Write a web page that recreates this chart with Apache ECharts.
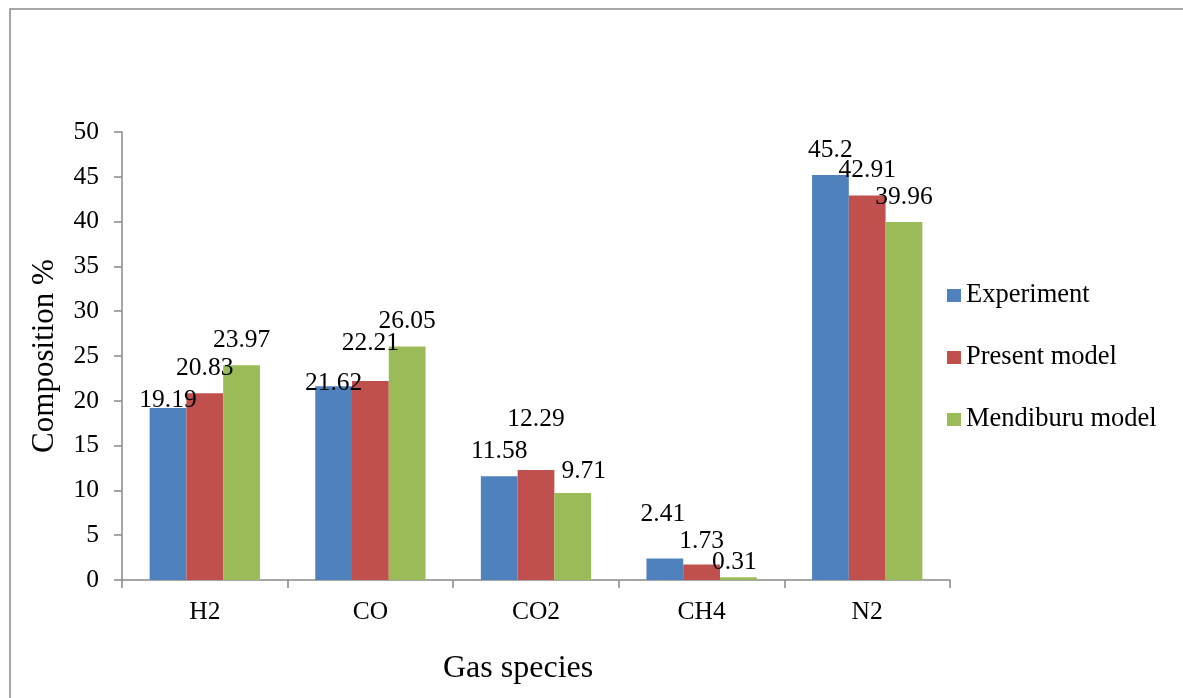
<!DOCTYPE html>
<html>
<head>
<meta charset="utf-8">
<script src="https://cdn.jsdelivr.net/npm/echarts@6/dist/echarts.min.js"></script>
<style>
html,body{margin:0;padding:0;background:#fff;}
#chart{width:1183px;height:698px;}
</style>
</head>
<body>
<div id="chart"></div>
<script>
const categories = ['H2', 'CO', 'CO2', 'CH4', 'N2'];
const experiment = [19.19, 21.62, 11.58, 2.41, 45.2];
const presentModel = [20.83, 22.21, 12.29, 1.73, 42.91];
const mendiburuModel = [23.97, 26.05, 9.71, 0.31, 39.96];
const seriesNames = ['Experiment', 'Present model', 'Mendiburu model'];
const yTicks = { min: 0, max: 50, interval: 5 };

// label nudges [dx, dy] (pixels) to mimic original label placement
const nudgeExperiment = [[0, 17], [0, 22], [0, 0], [-2, -19], [0, 0]];
const nudgePresent = [[0, 0], [0, -13], [0, -26], [0, 2], [0, 0]];
const nudgeMendiburu = [[0, 0], [0, 0], [11, 3], [-4, 10], [0, 0]];

const FONT = "'Liberation Serif', 'Times New Roman', serif";
const colors = ['#4F81BD', '#C0504D', '#9BBB59'];
const axisGray = '#898989';

function buildData(vals, nudges) {
  return vals.map((v, i) => ({ value: v, label: { offset: nudges[i] } }));
}

function makeSeries(name, vals, nudges, color) {
  return {
    name: name,
    type: 'bar',
    barGap: '0%',
    barCategoryGap: '33.4%',
    itemStyle: { color: color },
    label: {
      show: true,
      position: 'top',
      distance: 12.5,
      color: '#000',
      fontFamily: FONT,
      fontSize: 25.5,
      lineHeight: 25
    },
    data: buildData(vals, nudges)
  };
}

const chart = echarts.init(document.getElementById('chart'), null, { renderer: 'canvas' });
chart.setOption({
  animation: false,
  backgroundColor: '#fff',
  graphic: [{
    type: 'rect',
    shape: { x: 10, y: 9, width: 1300, height: 800 },
    style: { fill: 'none', stroke: '#8a8a8a', lineWidth: 1.5 },
    silent: true
  }],
  title: {
    text: 'Gas species',
    left: 443,
    top: 653,
    padding: 0,
    textStyle: { fontFamily: FONT, fontSize: 32, fontWeight: 'normal', color: '#000', lineHeight: 32 }
  },
  legend: {
    orient: 'vertical',
    left: 947,
    top: 282,
    padding: 0,
    itemGap: 35,
    itemWidth: 14,
    itemHeight: 13,
    icon: 'rect',
    data: seriesNames,
    textStyle: { fontFamily: FONT, fontSize: 26.5, color: '#000', lineHeight: 26.5 }
  },
  grid: { left: 122, right: 233, top: 132, bottom: 118, containLabel: false },
  xAxis: {
    type: 'category',
    data: categories,
    axisLine: { show: true, lineStyle: { color: axisGray, width: 1.5 } },
    axisTick: { show: true, length: 8, lineStyle: { color: axisGray, width: 1.5 } },
    axisLabel: { margin: 20, fontFamily: FONT, fontSize: 25.5, color: '#000', lineHeight: 25 },
    splitLine: { show: false }
  },
  yAxis: {
    type: 'value',
    min: yTicks.min,
    max: yTicks.max,
    interval: yTicks.interval,
    name: 'Composition %',
    nameLocation: 'middle',
    nameGap: 61.5,
    nameRotate: 90,
    nameTextStyle: { fontFamily: FONT, fontSize: 31, color: '#000', lineHeight: 31 },
    axisLine: { show: true, lineStyle: { color: axisGray, width: 1.5 } },
    axisTick: { show: true, length: 8, lineStyle: { color: axisGray, width: 1.5 } },
    axisLabel: { margin: 23, fontFamily: FONT, fontSize: 25.5, color: '#000', lineHeight: 25 },
    splitLine: { show: false }
  },
  series: [
    makeSeries(seriesNames[0], experiment, nudgeExperiment, colors[0]),
    makeSeries(seriesNames[1], presentModel, nudgePresent, colors[1]),
    makeSeries(seriesNames[2], mendiburuModel, nudgeMendiburu, colors[2])
  ]
});
</script>
</body>
</html>
